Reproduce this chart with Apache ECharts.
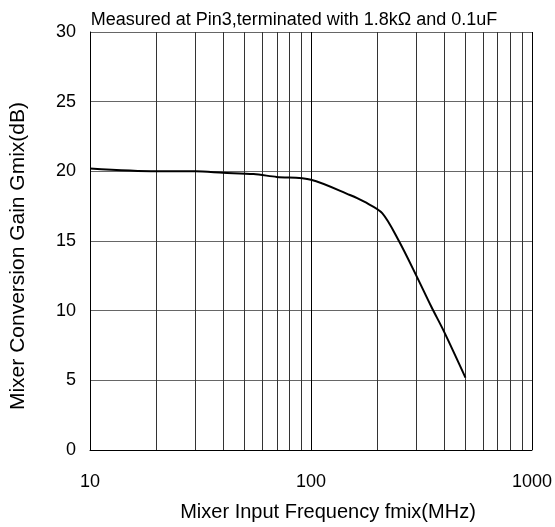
<!DOCTYPE html>
<html><head><meta charset="utf-8">
<script src="https://cdn.jsdelivr.net/npm/echarts@6/dist/echarts.min.js"></script>
<style>html,body{margin:0;padding:0;background:#fff}#c{width:555px;height:527px}</style>
</head><body><div id="c"></div>
<script>
const freqs = [10, 20, 30, 40, 55, 70, 100, 150, 175, 210, 250, 300, 350, 400, 500];
const gain = [20.2, 20.0, 20.0, 19.9, 19.8, 19.6, 19.4, 18.3, 17.8, 17.0, 15.0, 12.5, 10.3, 8.5, 5.2];
const minorGrid = [20, 30, 40, 50, 60, 70, 80, 90, 200, 300, 400, 500, 600, 700, 800, 900];
const titleText = 'Measured at Pin3,terminated with 1.8kΩ and 0.1uF';
const xName = 'Mixer Input Frequency fmix(MHz)';
const yName = 'Mixer Conversion Gain Gmix(dB)';

const font = 'Liberation Sans, Arial, sans-serif';
const chart = echarts.init(document.getElementById('c'));
chart.setOption({
  animation: false,
  title: { text: titleText, left: 289, top: 6, textAlign: 'center',
    textStyle: { fontFamily: font, fontSize: 18, fontWeight: 'normal', color: '#000' } },
  grid: { left: 89, right: 23, top: 32, bottom: 76 },
  xAxis: {
    type: 'log', logBase: 10, min: 10, max: 1000,
    name: xName, nameLocation: 'middle', nameGap: 52,
    nameTextStyle: { fontFamily: font, fontSize: 20, color: '#000', padding: [0, 0, 0, 34] },
    axisLine: { show: true, lineStyle: { color: '#000', width: 1 } },
    axisTick: { show: false },
    axisLabel: { fontFamily: font, fontSize: 18, color: '#000', margin: 23,
      formatter: v => String(v) },
    splitLine: { show: true, lineStyle: { color: '#000', width: 1 } }
  },
  yAxis: {
    type: 'value', min: 0, max: 30, interval: 5,
    name: yName, nameLocation: 'middle', nameGap: 61,
    nameTextStyle: { fontFamily: font, fontSize: 21, color: '#000', padding: [0, 30, 0, 0] },
    axisLine: { show: true, lineStyle: { color: '#000', width: 1 } },
    axisTick: { show: false },
    axisLabel: { fontFamily: font, fontSize: 18, color: '#000', margin: 14 },
    splitLine: { show: true, lineStyle: { color: '#666', width: 1 } }
  },
  series: [{
    type: 'line',
    data: freqs.map((f, i) => [f, gain[i]]),
    smooth: 0.3,
    showSymbol: false,
    lineStyle: { color: '#000', width: 2 },
    z: 5,
    markLine: {
      silent: true, symbol: 'none', label: { show: false },
      lineStyle: { color: '#333', width: 1, type: 'solid' },
      data: minorGrid.map(v => ({ xAxis: v }))
    }
  }]
});
</script></body></html>
